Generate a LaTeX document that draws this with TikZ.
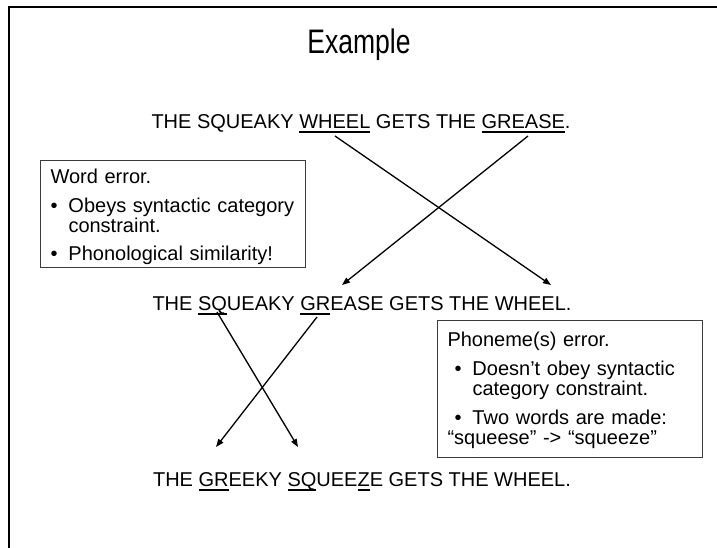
\documentclass[tikz,border=0pt]{standalone}
\usepackage{fontspec}
\setmainfont{Liberation Sans}
\newfontfamily\titlefont[FakeStretch=0.78]{Liberation Sans}
\usetikzlibrary{arrows.meta}
\definecolor{borde}{HTML}{3C3C3C}

% underline part of a word
\newcommand{\subr}[1]{\setbox0=\hbox{#1}\rlap{\rule[-4.6pt]{\wd0}{1.3pt}}\box0\relax}
\newcommand{\vineta}[1]{\makebox[#1][l]{\textbullet}}

\begin{document}
\begin{tikzpicture}[
  x=1pt, y=-1pt,
  font=\fontsize{20}{20}\selectfont,
  frase/.style={anchor=base, inner sep=0pt},
  caja/.style={draw=borde, line width=1pt, fill=white, align=left,
               anchor=north west, inner xsep=10pt, inner ysep=0pt},
  flecha/.style={-{Triangle[length=8pt,width=6pt]}, line width=1.3pt},
  marco/.style={line width=1.3pt}
]
  \useasboundingbox (0,0) rectangle (717,547);
  \draw[marco] (9,548) -- (9,7) -- (718,7);

  \node[anchor=base, font=\titlefont\fontsize{34}{36}\selectfont] (titulo) at (359,53) {Example};

  \node[frase] (s1) at (361,128) {THE SQUEAKY \subr{WHEEL} GETS THE \subr{GREASE}.};
  \node[frase] (s2) at (362,310) {THE \subr{SQ}UEAKY \subr{GR}EASE GETS THE WHEEL.};
  \node[frase] (s3) at (362,486) {THE \subr{GR}EEKY \subr{SQ}UEE\subr{Z}E GETS THE WHEEL.};

  \node[caja, text width=245pt, minimum height=107pt] (palabra) at (40,160)
    {\rule{0pt}{20pt}Word error.\\[9pt]
     \vineta{18pt}Obeys syntactic category\\
     \hspace*{18pt}constraint.\\[8pt]
     \vineta{18pt}Phonological similarity!};
  \node[caja, text width=245pt, minimum height=137pt] (fonema) at (437,320)
    {\rule{0pt}{18pt}Phoneme(s) error.\\[9pt]
     \hspace*{7pt}\vineta{18pt}Doesn’t obey syntactic\\
     \hspace*{25pt}category constraint.\\[9pt]
     \hspace*{7pt}\vineta{18pt}Two words are made:\\
     “squeese” -> “squeeze”};

  % swapped words
  \coordinate (wheel1) at (335,136);
  \coordinate (wheel2) at (551,285);
  \coordinate (grease1) at (528,136);
  \coordinate (grease2) at (342,285);
  \draw[flecha] (wheel1) -- (wheel2);
  \draw[flecha] (grease1) -- (grease2);

  % swapped sounds
  \coordinate (sq1) at (217,312);
  \coordinate (sq2) at (298,447);
  \coordinate (gr1) at (317,317);
  \coordinate (gr2) at (216,447);
  \draw[flecha] (sq1) -- (sq2);
  \draw[flecha] (gr1) -- (gr2);
\end{tikzpicture}
\end{document}
